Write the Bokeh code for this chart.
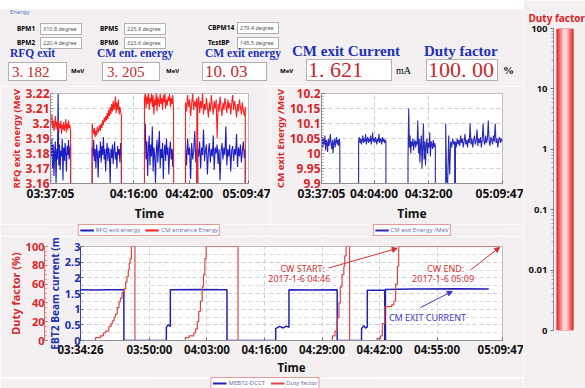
import numpy as np
import pandas as pd
from bokeh.plotting import figure
from bokeh.models import (Range1d, LinearAxis, FixedTicker, CustomJSTickFormatter,
                          Legend, LegendItem, Label, Arrow, NormalHead, Div)
from bokeh.layouts import row, column
from bokeh.embed import file_html
from bokeh.resources import INLINE

# ---------------- data ----------------
DAY = "2017-01-06 "

# header readouts
bpm_names = ["BPM1", "BPM5", "CBPM14", "BPM2", "BPM6", "TestBP"]
bpm_values = ["310.8 degree", "225.9 degree", "279.4 degree",
              "220.4 degree", "323.6 degree", "145.5 degree"]
energy_titles = ["RFQ exit", "CM ent. energy", "CM exit energy"]
energy_values = ["3. 182", "3. 205", "10. 03"]
current_value = "1. 621"
duty_value_text = "100. 00"
duty_value = [100.0]

# RFQ exit / CM entrance energy (MeV)
rfq_ticks = ["03:37:05", "04:16:00", "04:42:00", "05:09:47"]
rfq_yticks = [3.16, 3.17, 3.18, 3.19, 3.20, 3.21, 3.22]
rfq_seg_start = ["03:37:05", "03:56:35", "04:21:05", "04:40:17", "04:46:00"]
rfq_seg_end = ["03:46:29", "04:10:17", "04:34:41", "04:45:35", "05:08:17"]
rfq_blue = [
    [3.184, 3.178, 3.190, 3.170, 3.186, 3.165, 3.181, 3.188, 3.160, 3.183, 3.176, 3.220, 3.172, 3.186, 3.169,
     3.182, 3.178, 3.190, 3.162, 3.184, 3.175, 3.187, 3.180, 3.168, 3.185, 3.179, 3.189, 3.176, 3.183, 3.186],
    [3.184, 3.178, 3.189, 3.175, 3.183, 3.170, 3.186, 3.180, 3.164, 3.182, 3.177, 3.188, 3.174, 3.185, 3.179,
     3.191, 3.176, 3.183, 3.168, 3.181, 3.187, 3.175, 3.184, 3.179, 3.160, 3.183, 3.177, 3.186, 3.173, 3.182,
     3.188, 3.176, 3.181, 3.170, 3.185, 3.179, 3.183, 3.174, 3.187, 3.180],
    [3.185, 3.200, 3.176, 3.188, 3.165, 3.183, 3.192, 3.172, 3.186, 3.178, 3.198, 3.168, 3.184, 3.179, 3.160,
     3.182, 3.189, 3.174, 3.185, 3.195, 3.170, 3.183, 3.177, 3.187, 3.163, 3.181, 3.186, 3.175, 3.190, 3.179,
     3.184, 3.166, 3.182, 3.188, 3.176, 3.183, 3.171, 3.185],
    [3.185, 3.172, 3.190, 3.179, 3.184, 3.163, 3.187, 3.176, 3.182, 3.195, 3.174, 3.183],
    [3.183, 3.178, 3.188, 3.170, 3.184, 3.179, 3.196, 3.175, 3.182, 3.186, 3.166, 3.181, 3.187, 3.174, 3.183,
     3.178, 3.192, 3.169, 3.184, 3.180, 3.186, 3.173, 3.183, 3.162, 3.181, 3.187, 3.176, 3.184, 3.179, 3.198,
     3.172, 3.183, 3.178, 3.186, 3.168, 3.182, 3.185, 3.175, 3.183, 3.179, 3.193, 3.171, 3.184, 3.178, 3.186,
     3.174, 3.182, 3.188, 3.177, 3.183],
]
cm_entr_red = [
    [3.204, 3.199, 3.206, 3.197, 3.202, 3.195, 3.200, 3.205, 3.196, 3.201, 3.198, 3.203, 3.194, 3.200, 3.197,
     3.202, 3.193, 3.199, 3.196, 3.201, 3.195, 3.198, 3.203, 3.194, 3.200, 3.196, 3.202, 3.197, 3.199, 3.195],
    [3.200, 3.196, 3.193, 3.197, 3.191, 3.195, 3.192, 3.198, 3.194, 3.196, 3.199, 3.195, 3.200, 3.197, 3.202,
     3.199, 3.204, 3.201, 3.205, 3.202, 3.207, 3.203, 3.209, 3.205, 3.211, 3.206, 3.213, 3.208, 3.215, 3.209,
     3.212, 3.218, 3.207, 3.214, 3.209, 3.216, 3.206, 3.211, 3.208, 3.205],
    [3.216, 3.221, 3.210, 3.218, 3.213, 3.222, 3.209, 3.217, 3.214, 3.220, 3.211, 3.219, 3.206, 3.216, 3.212,
     3.221, 3.208, 3.218, 3.215, 3.211, 3.220, 3.213, 3.217, 3.209, 3.219, 3.214, 3.221, 3.210, 3.216, 3.212,
     3.218, 3.215, 3.220, 3.211, 3.217, 3.213, 3.219, 3.210],
    [3.214, 3.208, 3.219, 3.211, 3.216, 3.205, 3.213, 3.220, 3.209, 3.215, 3.211, 3.217],
    [3.212, 3.218, 3.207, 3.215, 3.210, 3.220, 3.206, 3.213, 3.209, 3.217, 3.211, 3.204, 3.214, 3.208, 3.219,
     3.212, 3.206, 3.215, 3.210, 3.216, 3.190, 3.213, 3.208, 3.218, 3.211, 3.205, 3.214, 3.209, 3.217, 3.212,
     3.207, 3.216, 3.210, 3.214, 3.206, 3.213, 3.219, 3.209, 3.215, 3.211, 3.204, 3.213, 3.208, 3.216, 3.211,
     3.206, 3.214, 3.209, 3.205, 3.211],
]

# CM exit energy (MeV)
cmx_ticks = ["03:37:05", "04:04:00", "04:32:00", "05:09:47"]
cmx_yticks = [9.9, 9.95, 10.0, 10.05, 10.1, 10.15, 10.2]
cmx_seg_start = ["03:37:05", "03:56:05", "04:21:23", "04:40:41", "04:45:41"]
cmx_seg_end = ["03:46:29", "04:10:05", "04:35:23", "04:45:17", "05:09:35"]
cmx_vals = [
    [10.04, 10.055, 10.02, 10.05, 10.03, 10.06, 10.01, 10.045, 10.035, 10.005, 10.05, 10.025, 10.04, 10.065,
     10.03, 10.015, 10.045, 10.0, 10.035, 10.05, 10.02, 10.04, 10.055, 10.03, 10.045, 10.025, 10.05, 10.035],
    [10.04, 10.055, 10.035, 10.05, 10.03, 10.045, 10.06, 10.035, 10.05, 10.04, 10.065, 10.03, 10.045, 10.055,
     10.035, 10.05, 10.04, 10.06, 10.03, 10.045, 10.07, 10.04, 10.05, 10.035, 10.055, 10.045, 10.03, 10.05,
     10.04, 10.065, 10.035, 10.05, 10.045, 10.03, 10.055, 10.04, 10.05, 10.035, 10.045, 10.04],
    [9.98, 10.15, 10.02, 10.06, 10.0, 10.04, 10.025, 10.05, 10.01, 10.035, 10.045, 10.02, 10.04, 10.03, 10.11,
     10.0, 10.05, 9.97, 10.03, 10.06, 9.95, 10.02, 10.1, 9.98, 10.04, 9.96, 10.03, 10.05, 10.0, 10.035, 10.02,
     10.07, 9.99, 10.04, 10.03, 10.015, 10.045, 10.02, 10.035, 10.025],
    [10.1, 9.91, 9.9, 10.06, 9.93, 10.04, 10.02, 10.05, 10.03, 10.04],
    [10.04, 10.02, 10.05, 10.03, 10.045, 10.025, 10.06, 10.035, 10.05, 10.02, 10.04, 10.065, 10.03, 10.045,
     10.02, 10.05, 10.035, 10.1, 10.03, 10.05, 10.02, 10.045, 10.06, 10.03, 10.04, 10.08, 10.025, 10.05,
     10.035, 10.055, 10.02, 10.045, 10.1, 10.04, 10.03, 10.06, 10.035, 10.05, 10.11, 10.04, 10.025, 10.055,
     10.045, 10.03, 10.06, 10.04, 10.1, 10.035, 10.05, 10.02, 10.045, 10.055, 10.035, 10.05, 10.04],
]

# MEBT2 DCCT current (mA) and duty factor (%)
low_ticks = ["03:34:26", "03:50:00", "04:03:00", "04:16:00", "04:29:00", "04:42:00", "04:55:00", "05:09:47"]
dcct_yticks = [0, 0.5, 1, 1.5, 2, 2.5, 3]
duty_yticks = [0, 20, 40, 60, 80, 100]
dcct_time = ["03:34:26", "03:37:26", "03:40:26", "03:44:14", "03:44:14", "03:53:50", "03:53:50", "03:54:14",
             "03:54:44", "03:54:44", "04:00:26", "04:07:32", "04:07:32", "04:18:32", "04:18:32", "04:19:26",
             "04:20:14", "04:20:56", "04:21:32", "04:21:32", "04:26:26", "04:32:26", "04:32:26", "04:37:56",
             "04:37:56", "04:38:26", "04:38:50", "04:39:14", "04:39:14", "04:43:11", "04:43:11", "04:43:20",
             "04:43:20", "04:49:26", "04:59:26", "05:06:41"]
dcct_mA = [1.62, 1.61, 1.62, 1.62, 0.0, 0.0, 0.42, 0.50, 0.45, 1.62, 1.63, 1.62, 0.0, 0.0, 0.38, 0.45,
           0.40, 0.46, 0.42, 1.62, 1.61, 1.62, 0.0, 0.0, 0.38, 0.47, 0.40, 0.43, 1.60, 1.60, 0.0, 0.0,
           1.63, 1.64, 1.65, 1.64]
duty_time = ["03:34:26", "03:37:50", "03:38:56", "03:39:38", "03:40:08", "03:40:50", "03:41:20", "03:41:38",
             "03:42:02", "03:42:20", "03:42:44", "03:43:08", "03:43:26", "03:43:50", "03:44:14", "03:44:38",
             "03:44:56", "03:45:14", "03:45:26", "03:45:38", "03:45:56", "03:46:44",
             "03:58:08", "03:58:56", "04:00:02", "04:00:26", "04:00:50", "04:01:08", "04:01:32", "04:01:56",
             "04:02:14", "04:02:32", "04:02:50", "04:10:02",
             "04:31:20", "04:31:56", "04:32:26", "04:32:50", "04:33:08", "04:33:32", "04:33:56", "04:34:08",
             "04:34:26", "04:35:14",
             "04:41:26", "04:42:14", "04:42:38", "04:43:11", "04:44:44", "04:45:14", "04:45:38", "04:46:02",
             "04:46:20", "05:08:56"]
duty_pct = [0, 3, 5, 8, 10, 15, 18, 21, 25, 28, 35, 41, 45, 51, 55, 62, 68, 75, 82, 87, 100, 0,
            3, 5, 8, 12, 20, 31, 42, 57, 70, 87, 100, 0,
            5, 10, 24, 40, 57, 70, 79, 90, 100, 0,
            2, 5, 18, 36, 38, 42, 60, 79, 100, 100]

# right-hand duty factor bar (log scale)
bar_ticks = [0.001, 0.01, 0.1, 1, 10, 100]

# ---------------- helpers ----------------
BG = "#f4f0f2"
RED = "#d8262a"
BLUE = "#2233aa"
SANS = "Noto Sans"
SERIF = "Liberation Serif"


def ms(s):
    return pd.Timestamp(DAY + s).value / 1e6


def build(starts, ends, segs, drop_last=True):
    xs, ys = [], []
    for i, (a, b, v) in enumerate(zip(starts, ends, segs)):
        ta, tb = ms(a), ms(b)
        xs.append(ta); ys.append(0.0)
        xs.extend(np.linspace(ta, tb, len(v))); ys.extend(v)
        if drop_last or i < len(segs) - 1:
            xs.append(tb); ys.append(0.0)
    return xs, ys


def tfmt():
    return CustomJSTickFormatter(code="""
const d = new Date(tick);
const p = (n) => String(n).padStart(2, '0');
return p(d.getUTCHours()) + ':' + p(d.getUTCMinutes()) + ':' + p(d.getUTCSeconds());
""")


def nfmt():
    return CustomJSTickFormatter(code="return String(Math.round(tick * 1000) / 1000);")


def style_axis(ax, color, label_color, tick_size="12px", label_size="12px"):
    ax.major_label_text_font = SANS
    ax.major_label_text_font_style = "bold"
    ax.major_label_text_font_size = tick_size
    ax.major_label_text_color = color
    ax.axis_label_text_font = SANS
    ax.axis_label_text_font_style = "bold"
    ax.axis_label_text_font_size = label_size
    ax.axis_label_text_color = label_color
    ax.major_label_standoff = 1
    ax.axis_label_standoff = 0
    ax.major_tick_in = 3
    ax.major_tick_out = 0
    ax.minor_tick_in = 2
    ax.minor_tick_out = 0
    ax.axis_line_color = "#909090"
    ax.major_tick_line_color = "#707070"
    ax.minor_tick_line_color = "#a0a0a0"


def style_grid(p):
    for g in (p.xgrid, p.ygrid):
        g.grid_line_color = "#cfcfcf"
        g.grid_line_dash = "4 3"


def legend_strip(width, height, left, right, labels, colors):
    f = figure(width=width, height=height, output_backend="svg", toolbar_location=None,
               x_axis_location=None, y_axis_location=None, x_range=Range1d(0, 1),
               y_range=Range1d(0, 1), min_border_left=left, min_border_right=right,
               min_border_top=0, min_border_bottom=0, background_fill_color=BG,
               border_fill_color=BG, outline_line_color=None)
    f.grid.visible = False
    items = []
    for lab_, col in zip(labels, colors):
        r = f.line([-5, -4], [-5, -4], color=col, line_width=2)
        items.append(LegendItem(label=lab_, renderers=[r]))
    f.add_layout(Legend(items=items, orientation="horizontal", location="center",
                        label_text_font_size="6px", label_text_font=SANS,
                        label_text_color="#7070a8", glyph_width=14, glyph_height=6,
                        label_height=6, label_standoff=2, padding=1, spacing=5, margin=0,
                        border_line_color="#cc3333", border_line_width=1,
                        background_fill_color="white", background_fill_alpha=1))
    return f


def common(width, height, x0, x1, y0, y1, left, right, top, bottom):
    p = figure(width=width, height=height, output_backend="svg", toolbar_location=None,
               x_range=Range1d(ms(x0), ms(x1)), y_range=Range1d(y0, y1),
               min_border_left=left, min_border_right=right, min_border_top=top,
               min_border_bottom=bottom, background_fill_color="white",
               border_fill_color=BG, outline_line_color="#bdbdbd")
    style_grid(p)
    return p


# ---------------- header (HTML) ----------------
def span(x, y, text, size, color="#000", font=SANS, weight="bold"):
    return (f'<span style="position:absolute;left:{x}px;top:{y - size * 0.6:.1f}px;font-size:{size}px;'
            f'line-height:1.2;color:{color};font-family:\'{font}\';font-weight:{weight};'
            f'white-space:nowrap;">{text}</span>')


def box(l, t, r, b):
    return (f'<div style="position:absolute;left:{l}px;top:{t}px;width:{r - l}px;height:{b - t}px;'
            f'background:#fff;border:1px solid #b0b0b0;box-sizing:border-box;"></div>')


parts = ['<div style="position:absolute;left:0;top:0;width:523px;height:9px;background:#fff;"></div>',
         span(10, 13, "Energy", 6, "#5577cc", weight="normal")]
bpm_lx = [17, 100, 208, 17, 100, 208]
bpm_bx = [40, 124, 237, 40, 124, 237]
bpm_y = [29, 29, 28, 43, 43, 43]
for n, v, lx, bx, y in zip(bpm_names, bpm_values, bpm_lx, bpm_bx, bpm_y):
    parts.append(box(bx, y - 6, bx + 42, y + 6))
    parts.append(span(lx, y, n, 6.5))
    parts.append(span(bx + 3, y, v, 5.5, "#555", weight="normal"))
for t, x in zip(energy_titles, [10, 97, 205]):
    parts.append(span(x, 54, t, 11.5, "#2030b8", SERIF))
parts.append(span(292, 51, "CM exit Current", 15, "#2030b8", SERIF))
parts.append(span(424, 51, "Duty factor", 15, "#2030b8", SERIF))
for l, t, r, b in [(8, 62, 67, 81), (102, 62, 160, 81), (202, 62, 267, 81), (306, 59, 392, 81),
                   (426, 59, 498, 81)]:
    parts.append(box(l, t, r, b))
parts.append(span(12, 72, energy_values[0], 15, "#c8282a", SERIF, "normal"))
parts.append(span(107, 72, energy_values[1], 15, "#c8282a", SERIF, "normal"))
parts.append(span(205, 72, energy_values[2], 17, "#c8282a", SERIF, "normal"))
parts.append(span(308, 70.5, current_value, 22, "#c8282a", SERIF, "normal"))
parts.append(span(428, 70.5, duty_value_text, 22, "#c8282a", SERIF, "normal"))
for x in (71, 166, 280):
    parts.append(span(x, 72, "MeV", 6))
parts.append(span(396, 71, "mA", 10, "#000", SERIF, "normal"))
parts.append(span(503, 71, "%", 11, "#000", SERIF))
header_html = ('<div style="position:relative;width:523px;height:86px;background:%s;overflow:hidden;">'
               % BG + "".join(parts) + "</div>")
ph = Div(text=header_html, width=523, height=86, styles={"margin": "0", "padding": "0"})

# ---------------- RFQ / CM entrance plot ----------------
p1 = common(270, 138, "03:37:05", "05:09:47", 3.16, 3.22, 50, 22, 7, 32)
bx_, by_ = build(rfq_seg_start, rfq_seg_end, rfq_blue)
rx_, ry_ = build(rfq_seg_start, rfq_seg_end, cm_entr_red)
r1b = p1.line(bx_, by_, color="#1e1ec4", line_width=1.1)
r1r = p1.line(rx_, ry_, color="#ff1e1e", line_width=1.1)
p1.xaxis.ticker = FixedTicker(ticks=[ms(t) for t in rfq_ticks])
p1.xaxis.formatter = tfmt()
p1.yaxis.ticker = FixedTicker(ticks=rfq_yticks,
                              minor_ticks=[3.16 + 0.002 * i for i in range(31)])
p1.yaxis.formatter = nfmt()
p1.xaxis.axis_label = "Time"
p1.yaxis.axis_label = "RFQ exit energy (MeV"
style_axis(p1.xaxis[0], "#111111", "#111111", "12px", "12px")
style_axis(p1.yaxis[0], RED, RED, "12px", "9.3px")
l1 = legend_strip(270, 12, 50, 22, ["RFQ exit energy", "CM entrance Energy"], ["#1e1ec4", "#ff1e1e"])

# ---------------- CM exit energy plot ----------------
p2 = common(253, 138, "03:37:05", "05:09:47", 9.9, 10.2, 45, 21, 7, 32)
cx_, cy_ = build(cmx_seg_start, cmx_seg_end, cmx_vals, drop_last=False)
r2 = p2.line(cx_, cy_, color="#2a2ab8", line_width=1.1)
p2.xaxis.ticker = FixedTicker(ticks=[ms(t) for t in cmx_ticks])
p2.xaxis.formatter = tfmt()
p2.yaxis.ticker = FixedTicker(ticks=cmx_yticks,
                              minor_ticks=[9.9 + 0.01 * i for i in range(31)])
p2.yaxis.formatter = nfmt()
p2.xaxis.axis_label = "Time"
p2.yaxis.axis_label = "CM exit Energy /MeV"
style_axis(p2.xaxis[0], "#111111", "#111111", "12px", "12px")
style_axis(p2.yaxis[0], RED, RED, "12px", "9.6px")
l2 = legend_strip(253, 12, 45, 21, ["CM exit Energy /MeV"], ["#2a2ab8"])

# ---------------- current / duty plot ----------------
p3 = common(523, 141, "03:34:26", "05:09:47", 0, 3, 80, 21, 10, 29)
p3.extra_y_ranges = {"duty": Range1d(0, 100)}
r3b = p3.line([ms(t) for t in dcct_time], dcct_mA, color="#2020b8", line_width=1.5)
r3r = p3.step([ms(t) for t in duty_time], duty_pct, mode="after", color="#e04545",
              line_width=1.2, y_range_name="duty")
p3.xaxis.ticker = FixedTicker(ticks=[ms(t) for t in low_ticks])
p3.xaxis.formatter = tfmt()
p3.yaxis.ticker = FixedTicker(ticks=dcct_yticks, minor_ticks=[0.25, 0.75, 1.25, 1.75, 2.25, 2.75])
p3.yaxis.formatter = nfmt()
p3.ygrid.minor_grid_line_color = "#dcdcdc"
p3.ygrid.minor_grid_line_dash = "4 3"
p3.xaxis.axis_label = "Time"
p3.yaxis.axis_label = "EBT2 Beam current (m"
style_axis(p3.xaxis[0], "#111111", "#111111", "11.5px", "11.5px")
style_axis(p3.yaxis[0], BLUE, BLUE, "11px", "10.2px")
p3.yaxis[0].major_label_standoff = 0
p3.yaxis[0].axis_line_color = "#3040b0"
duty_ax = LinearAxis(y_range_name="duty", axis_label="Duty factor (%)",
                     ticker=FixedTicker(ticks=duty_yticks, minor_ticks=list(range(0, 101, 5))))
style_axis(duty_ax, RED, RED, "11px", "11px")
duty_ax.major_label_standoff = 0
duty_ax.axis_line_color = "#e06a6a"
duty_ax.minor_tick_line_color = "#e08080"
p3.add_layout(duty_ax, "left")

head_r = dict(size=5, fill_color="#d83030", line_color="#d83030")
p3.add_layout(Arrow(end=NormalHead(**head_r), x_start=ms("04:30:26"), y_start=77,
                    x_end=ms("04:45:59"), y_end=98, line_color="#d83030", line_width=1,
                    y_range_name="duty"))
p3.add_layout(Arrow(end=NormalHead(**head_r), x_start=ms("05:02:32"), y_start=75,
                    x_end=ms("05:09:08"), y_end=99, line_color="#d83030", line_width=1,
                    y_range_name="duty"))
head_b = dict(size=5, fill_color="#3a3ac8", line_color="#3a3ac8")
p3.add_layout(Arrow(end=NormalHead(**head_b), x_start=ms("04:51:14"), y_start=1.05,
                    x_end=ms("04:58:26"), y_end=1.57, line_color="#3a3ac8", line_width=1))


def note(p, x, y, text, color, rng=None):
    kw = dict(x=ms(x), y=y, text=text, text_font=SANS, text_font_size="9px",
              text_color=color, text_align="center", text_baseline="middle")
    if rng:
        kw["y_range_name"] = rng
    p.add_layout(Label(**kw))


note(p3, "04:24:38", 77, "CW START:", "#d83030", "duty")
note(p3, "04:24:08", 66, "2017-1-6  04:46", "#d83030", "duty")
note(p3, "04:56:56", 77, "CW END:", "#d83030", "duty")
note(p3, "04:56:38", 66, "2017-1-6  05:09", "#d83030", "duty")
note(p3, "04:52:50", 0.73, "CM EXIT CURRENT", "#3a3ac8")
l3 = legend_strip(523, 11, 150, 143, ["MEBT2-DCCT", "Duty factor"], ["#2020b8", "#e04545"])

# ---------------- duty factor bar ----------------
pb = figure(width=62, height=388, y_axis_type="log", y_range=Range1d(0.001, 100),
            x_range=Range1d(0, 1), output_backend="svg", toolbar_location=None,
            min_border_left=30, min_border_right=8, min_border_top=28, min_border_bottom=58,
            background_fill_color=BG, border_fill_color=BG, outline_line_color=None,
            x_axis_location=None, title="Duty factor")
pb.grid.visible = False
pb.title.text_font = SANS
pb.title.text_font_size = "10px"
pb.title.text_font_style = "bold"
pb.title.text_color = "#e02020"
pb.title.align = "left"
pb.title.offset = -25
pb.title.standoff = 8
for w, c in ((0.72, "#e23434"), (0.56, "#ee6464"), (0.38, "#f59a9a"), (0.2, "#fcd2d2")):
    pb.vbar(x=[0.48], top=duty_value, bottom=0.001, width=w, fill_color=c, line_color=None)
pb.yaxis.ticker = FixedTicker(ticks=bar_ticks,
                              minor_ticks=[k * 10.0 ** e for e in range(-3, 2) for k in range(2, 10)])
pb.yaxis.formatter = CustomJSTickFormatter(code="return tick < 0.005 ? '0' : String(tick);")
ay = pb.yaxis[0]
ay.major_label_text_font = SANS
ay.major_label_text_font_style = "bold"
ay.major_label_text_font_size = "9.5px"
ay.major_label_text_color = "#111111"
ay.major_tick_out = 3
ay.major_tick_in = 0
ay.minor_tick_out = 2
ay.minor_tick_in = 0
ay.major_label_standoff = 3
ay.axis_line_color = "#909090"
ay.major_tick_line_color = "#707070"
ay.minor_tick_line_color = "#a0a0a0"

layout = row(column(ph, row(column(p1, l1), column(p2, l2)), p3, row(l3)), pb)
open("out.html", "w").write(file_html(layout, INLINE))
